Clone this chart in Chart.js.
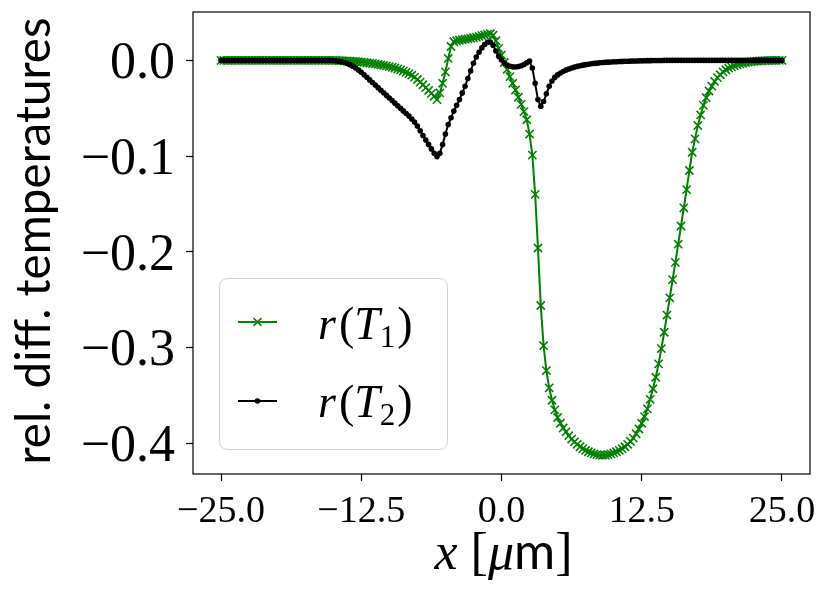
<!DOCTYPE html>
<html><head><meta charset="utf-8">
<script src="https://cdn.jsdelivr.net/npm/chart.js@4.4.1/dist/chart.umd.min.js"></script>
<style>html,body{margin:0;padding:0;background:#fff;overflow:hidden}canvas{display:block}</style>
</head><body>
<canvas id="c" width="831" height="594"></canvas>
<script>
// x positions [µm]
const xPos = [
-25,-24.75,-24.5,-24.25,-24,-23.75,-23.5,-23.25,
-23,-22.75,-22.5,-22.25,-22,-21.75,-21.5,-21.25,
-21,-20.75,-20.5,-20.25,-20,-19.75,-19.5,-19.25,
-19,-18.75,-18.5,-18.25,-18,-17.75,-17.5,-17.25,
-17,-16.75,-16.5,-16.25,-16,-15.75,-15.5,-15.25,
-15,-14.75,-14.5,-14.25,-14,-13.75,-13.5,-13.25,
-13,-12.75,-12.5,-12.25,-12,-11.75,-11.5,-11.25,
-11,-10.75,-10.5,-10.25,-10,-9.75,-9.5,-9.25,
-9,-8.75,-8.5,-8.25,-8,-7.75,-7.5,-7.25,
-7,-6.75,-6.5,-6.25,-6,-5.75,-5.5,-5.25,
-5,-4.75,-4.5,-4.25,-4,-3.75,-3.5,-3.25,
-3,-2.75,-2.5,-2.25,-2,-1.75,-1.5,-1.25,
-1,-0.75,-0.5,-0.25,0,0.25,0.5,0.75,
1,1.25,1.5,1.75,2,2.25,2.5,2.75,
3,3.25,3.5,3.75,4,4.25,4.5,4.75,
5,5.25,5.5,5.75,6,6.25,6.5,6.75,
7,7.25,7.5,7.75,8,8.25,8.5,8.75,
9,9.25,9.5,9.75,10,10.25,10.5,10.75,
11,11.25,11.5,11.75,12,12.25,12.5,12.75,
13,13.25,13.5,13.75,14,14.25,14.5,14.75,
15,15.25,15.5,15.75,16,16.25,16.5,16.75,
17,17.25,17.5,17.75,18,18.25,18.5,18.75,
19,19.25,19.5,19.75,20,20.25,20.5,20.75,
21,21.25,21.5,21.75,22,22.25,22.5,22.75,
23,23.25,23.5,23.75,24,24.25,24.5,24.75,
25];

// r(T1) – green, x markers
const rT1 = [
0,0,0,0,0,0,0,0,
0,0,0,0,0,0,0,0,
0,0,0,0,0,0,0,0,
0,0,0,0,0,0,0,0,
0,0,0,0,0,0,0,0,
0,0,-0.0002,-0.0003,-0.0005,-0.0007,-0.0009,-0.0011,
-0.0012,-0.0015,-0.0018,-0.0021,-0.0025,-0.0029,-0.0033,-0.0037,
-0.0042,-0.0047,-0.0052,-0.0058,-0.0065,-0.0072,-0.008,-0.009,
-0.010,-0.0112,-0.0125,-0.0139,-0.0155,-0.0175,-0.020,-0.0227,
-0.0255,-0.0285,-0.0315,-0.0345,-0.0375,-0.041,-0.034,-0.024,
-0.012,0.002,0.0145,0.0195,0.0205,0.021,0.0215,0.022,
0.0225,0.023,0.0236,0.0243,0.025,0.0258,0.0265,0.0272,
0.0278,0.0262,0.0205,0.0125,0.0055,-0.0022,-0.0095,-0.017,
-0.024,-0.031,-0.0385,-0.046,-0.0535,-0.062,-0.077,-0.099,
-0.140,-0.196,-0.256,-0.298,-0.324,-0.342,-0.355,-0.365,
-0.373,-0.379,-0.384,-0.388,-0.392,-0.3955,-0.3985,-0.401,
-0.4035,-0.4055,-0.4073,-0.4088,-0.41,-0.411,-0.4118,-0.4123,
-0.4125,-0.4123,-0.4118,-0.411,-0.41,-0.4088,-0.4073,-0.4055,
-0.4035,-0.401,-0.398,-0.3945,-0.390,-0.385,-0.379,-0.372,
-0.364,-0.354,-0.343,-0.331,-0.317,-0.301,-0.284,-0.266,
-0.248,-0.229,-0.211,-0.192,-0.173,-0.154,-0.135,-0.115,
-0.096,-0.082,-0.068,-0.057,-0.047,-0.039,-0.032,-0.027,
-0.022,-0.018,-0.015,-0.012,-0.0098,-0.0082,-0.0068,-0.0056,
-0.0046,-0.0037,-0.003,-0.0024,-0.0019,-0.0015,-0.0011,-0.0008,
-0.0006,-0.0004,-0.0003,-0.0002,-0.0001,0,0,0,
0];

// r(T2) – black, dot markers
const rT2 = [
0,0,0,0,0,0,0,0,
0,0,0,0,0,0,0,0,
0,0,0,0,0,0,0,0,
0,0,0,0,0,0,0,0,
0,0,0,0,0,0,0,0,
-0.0002,-0.0005,-0.001,-0.0016,-0.0024,-0.0034,-0.0047,-0.0062,
-0.008,-0.0102,-0.0125,-0.015,-0.0177,-0.0204,-0.0231,-0.0258,
-0.0285,-0.0312,-0.0339,-0.0366,-0.0393,-0.042,-0.0447,-0.0474,
-0.0501,-0.0528,-0.0555,-0.0582,-0.0612,-0.0645,-0.0685,-0.0735,
-0.0785,-0.0832,-0.0878,-0.0925,-0.097,-0.1005,-0.097,-0.088,
-0.077,-0.067,-0.060,-0.053,-0.047,-0.041,-0.034,-0.027,
-0.019,-0.011,-0.003,0.0035,0.0085,0.013,0.0165,0.0188,
0.0192,0.0158,0.0098,0.0042,0.0003,-0.0028,-0.0048,-0.0062,
-0.0068,-0.0069,-0.0065,-0.0056,-0.0043,-0.0025,-0.0008,-0.008,
-0.024,-0.041,-0.048,-0.043,-0.035,-0.027,-0.0215,-0.0178,
-0.0152,-0.0132,-0.0116,-0.0102,-0.009,-0.008,-0.0071,-0.0063,
-0.0056,-0.005,-0.0045,-0.004,-0.0036,-0.0032,-0.0029,-0.0026,
-0.0023,-0.0021,-0.0019,-0.0017,-0.0015,-0.0014,-0.0012,-0.0011,
-0.001,-0.0009,-0.0008,-0.0007,-0.0006,-0.0005,-0.0005,-0.0004,
-0.0003,-0.0003,-0.0002,-0.0002,-0.0001,-0.0001,0,0,
0,0,0,0,0,0,0,0,
0,0,0,0,0,0,0,0,
0,0,0,0,0,0,0,0,
0,0,0,0,0,0,0,0,
0,0,0,0,0,0,0,0,
0];

const xTicks = [-25, -12.5, 0, 12.5, 25];
const yTicks = [-0.4, -0.3, -0.2, -0.1, 0];
const yTitle = 'rel. diff. temperatures';
const GREEN = '#008000';

const AREA = {left:193, right:810, top:12, bottom:474};
const fmt = v => (v < -1e-9 ? '\u2212' : '') + Math.abs(v).toFixed(1);

function drawParts(ctx, parts, cx, baseline, align) {
  let total = 0;
  parts.forEach(p => { ctx.font = p.font; p.w = ctx.measureText(p.t).width; total += p.w + (p.gap || 0); });
  let x = align === 'left' ? cx : cx - total / 2;
  ctx.textAlign = 'left';
  ctx.textBaseline = 'alphabetic';
  parts.forEach(p => {
    ctx.font = p.font;
    ctx.fillText(p.t, x, baseline + (p.dy || 0));
    x += p.w + (p.gap || 0);
  });
}

const decor = {
  id: 'decor',
  afterDraw(chart) {
    const ctx = chart.ctx;
    const a = chart.chartArea;
    ctx.save();
    // frame
    ctx.strokeStyle = '#000';
    ctx.lineWidth = 1.2;
    ctx.strokeRect(a.left, a.top, a.right - a.left, a.bottom - a.top);

    // legend box
    ctx.beginPath();
    ctx.roundRect(219.5, 278.5, 228, 171, 8);
    ctx.fillStyle = 'rgba(255,255,255,0.8)';
    ctx.fill();
    ctx.strokeStyle = '#d0d0d0';
    ctx.lineWidth = 1;
    ctx.stroke();

    // legend entry 1
    ctx.strokeStyle = GREEN; ctx.lineWidth = 2;
    ctx.beginPath(); ctx.moveTo(238, 322); ctx.lineTo(277, 322); ctx.stroke();
    ctx.lineWidth = 1.5;
    const d = 3.9;
    ctx.beginPath();
    ctx.moveTo(257.5 - d, 322 - d); ctx.lineTo(257.5 + d, 322 + d);
    ctx.moveTo(257.5 - d, 322 + d); ctx.lineTo(257.5 + d, 322 - d);
    ctx.stroke();
    // legend entry 2
    ctx.strokeStyle = '#000'; ctx.lineWidth = 2;
    ctx.beginPath(); ctx.moveTo(238, 401); ctx.lineTo(277, 401); ctx.stroke();
    ctx.fillStyle = '#000';
    ctx.beginPath(); ctx.arc(257.5, 401, 2.8, 0, Math.PI * 2); ctx.fill();

    ctx.fillStyle = '#000';
    const fi = 'italic 46px "Liberation Serif"';
    const fr = '46px "Liberation Serif"';
    const fs = '31px "Liberation Serif"';
    [['1', 339], ['2', 417]].forEach(([sub, base]) => {
      drawParts(ctx, [
        {t:'r', font:fi, gap:3},
        {t:'(', font:fr},
        {t:'T', font:fi, gap:0},
        {t:sub, font:fs, dy:8, gap:2},
        {t:')', font:fr}
      ], 318, base, 'left');
    });

    // x title
    drawParts(ctx, [
      {t:'x', font:'italic 52px "Liberation Serif"'},
      {t:' ', font:'52px "Liberation Serif"'},
      {t:'[', font:'52px "Liberation Serif"'},
      {t:'\u03bc', font:'italic 52px "Liberation Serif"'},
      {t:'m', font:'50px Lato'},
      {t:']', font:'52px "Liberation Serif"'}
    ], (a.left + a.right) / 2 + 2, 569, 'center');

    // y title
    ctx.font = '40px Lato';
    const w = ctx.measureText(yTitle).width;
    const size = 40 * 447 / w;
    ctx.font = size.toFixed(1) + 'px Lato';
    ctx.translate(50, (a.top + a.bottom) / 2 - 2);
    ctx.rotate(-Math.PI / 2);
    ctx.textAlign = 'center';
    ctx.textBaseline = 'alphabetic';
    ctx.fillText(yTitle, 0, 0);
    ctx.restore();
  }
};

new Chart(document.getElementById('c').getContext('2d'), {
  type: 'line',
  data: {
    datasets: [
      {
        label: 'r(T2)',
        data: xPos.map((x, i) => ({x: x, y: rT2[i]})),
        borderColor: '#000', backgroundColor: '#000', borderWidth: 2,
        pointStyle: 'circle', pointRadius: 2.8, pointBorderWidth: 0,
        pointBackgroundColor: '#000', tension: 0, order: 0
      },
      {
        label: 'r(T1)',
        data: xPos.map((x, i) => ({x: x, y: rT1[i]})),
        borderColor: GREEN, backgroundColor: GREEN, borderWidth: 2,
        pointStyle: 'crossRot', pointRadius: 5.8, pointBorderWidth: 1.6,
        pointBorderColor: GREEN, tension: 0, order: 1
      }
    ]
  },
  options: {
    responsive: false, animation: false, devicePixelRatio: 1,
    events: [],
    layout: {padding: {left: 0, top: AREA.top, right: 831 - AREA.right, bottom: 0}},
    plugins: {legend: {display: false}, tooltip: {enabled: false}},
    scales: {
      x: {
        type: 'linear', min: -27.5, max: 27.5,
        afterBuildTicks: s => { s.ticks = xTicks.map(v => ({value: v})); },
        afterFit: s => { s.height = 594 - AREA.bottom; s.paddingLeft = 0; s.paddingRight = 0; },
        ticks: {callback: fmt, font: {family: 'Liberation Serif', size: 38}, color: '#000',
                padding: 8, maxRotation: 0, minRotation: 0, autoSkip: false},
        grid: {drawOnChartArea: false, drawTicks: true, tickLength: 7, tickColor: '#000', tickWidth: 1.2},
        border: {display: false}
      },
      y: {
        type: 'linear', min: -0.432, max: 0.0505,
        afterBuildTicks: s => { s.ticks = yTicks.map(v => ({value: v})); },
        afterFit: s => { s.width = AREA.left; s.paddingTop = 0; s.paddingBottom = 0; },
        ticks: {callback: fmt, font: {family: 'Liberation Serif', size: 52}, color: '#000',
                padding: 11, autoSkip: false, labelOffset: 4},
        grid: {drawOnChartArea: false, drawTicks: true, tickLength: 7, tickColor: '#000', tickWidth: 1.2},
        border: {display: false}
      }
    }
  },
  plugins: [decor]
});
</script>
</body></html>
